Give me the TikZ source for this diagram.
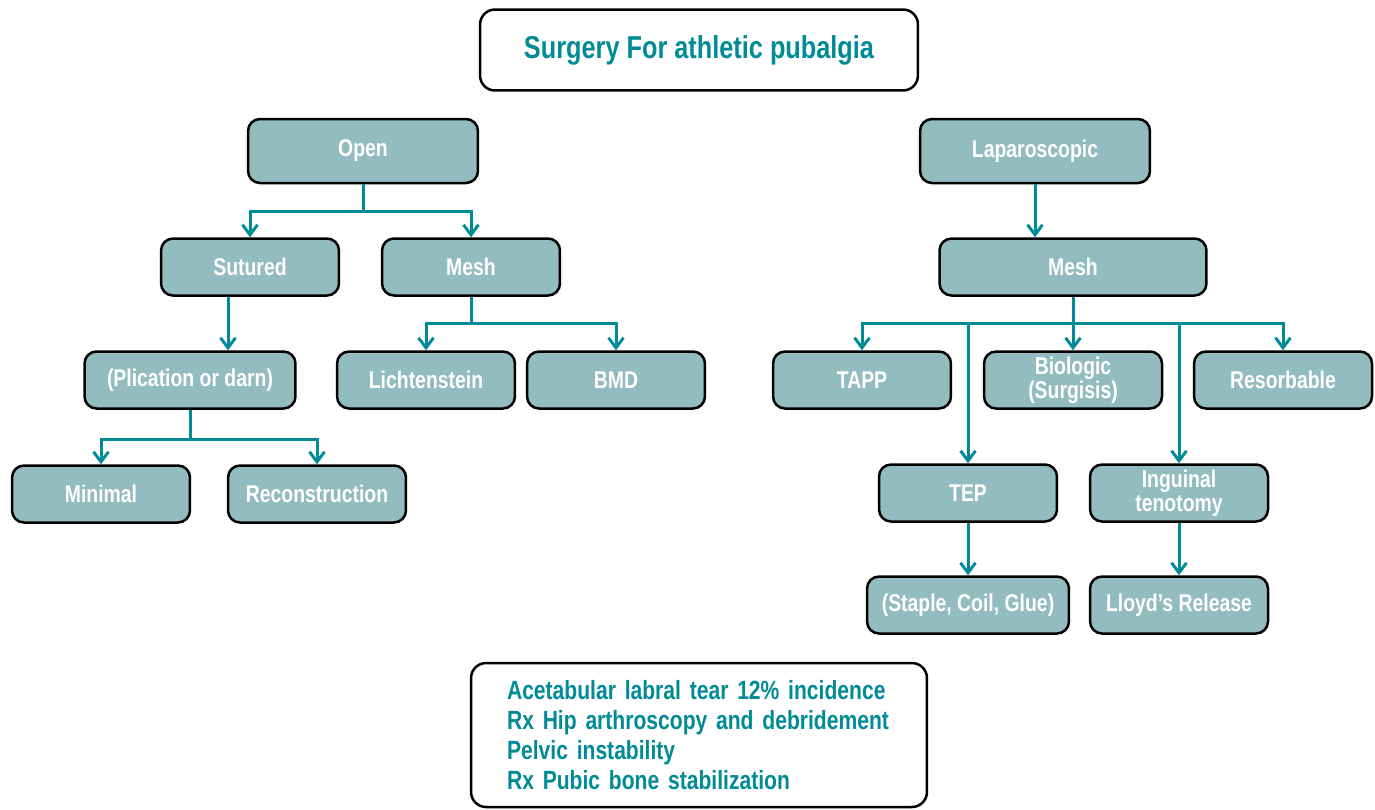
\documentclass[tikz,border=0pt]{standalone}
\usepackage{fontspec}
\setmainfont{Liberation Sans}[FakeStretch=0.8]
\usetikzlibrary{calc,arrows.meta}
\definecolor{boxfill}{RGB}{147,188,193}
\definecolor{pubteal}{RGB}{0,139,150}
\tikzset{
	stage/.style={draw=black, line width=0.5mm, fill=boxfill, rounded corners=0.24cm, text=white,
		font=\bfseries\fontsize{13.8}{13.6}\selectfont, align=center, inner sep=1pt,
		minimum width=3.56cm, minimum height=1.14cm},
	framebox/.style={draw=black, line width=0.5mm, fill=white, rounded corners=0.3cm, text=pubteal},
	trunk/.style={line width=0.6mm, color=pubteal},
	link/.style={trunk, -{Straight Barb[length=0.2cm, width=0.3cm]}},
}

\begin{document}
\begin{tikzpicture}[x=0.02cm, y=-0.02cm]
		%%%%% START %%%%%
		\useasboundingbox (0, 0) rectangle (1375, 809);
		
		\node[framebox, minimum width=8.76cm, minimum height=1.62cm, font=\bfseries\fontsize{18}{20}\selectfont] (title) at (699, 50) {Surgery For athletic pubalgia};
		
		% open branch
		\node[stage, minimum width=4.6cm, minimum height=1.28cm] (open) at (363, 151) {Open};
		\node[stage] (sutured) at (250, 267) {Sutured};
		\node[stage] (meshopen) at (471, 267) {Mesh};
		\node[stage, minimum width=4.22cm] (plication) at (190, 380) {(Plication or darn)};
		\node[stage] (lichtenstein) at (426, 380) {Lichtenstein};
		\node[stage] (bmd) at (616, 380) {BMD};
		\node[stage] (minimal) at (101, 494) {Minimal};
		\node[stage] (reconstruction) at (317, 494) {Reconstruction};
		
		% laparoscopic branch
		\node[stage, minimum width=4.6cm, minimum height=1.28cm] (lap) at (1035, 151) {Laparoscopic};
		\node[stage, minimum width=5.34cm] (lapmesh) at (1073, 267) {Mesh};
		\node[stage] (tapp) at (862, 380) {TAPP};
		\node[stage] (biologic) at (1073, 380) {Biologic\\(Surgisis)};
		\node[stage] (resorbable) at (1283, 380) {Resorbable};
		\node[stage] (tep) at (968, 493) {TEP};
		\node[stage] (inguinal) at (1179, 493) {Inguinal\\tenotomy};
		\node[stage, minimum width=4.04cm] (staple) at (968, 605) {(Staple, Coil, Glue)};
		\node[stage] (lloyd) at (1179, 605) {Lloyd’s Release};
		
		\node[framebox, text width=7.68cm, inner xsep=0.72cm, minimum height=2.88cm, align=left,
			font=\bfseries\fontsize{15}{17}\selectfont] (notes) at (699, 735)
			{Acetabular labral tear 12\% incidence\\Rx Hip arthroscopy and debridement\\Pelvic instability\\Rx Pubic bone stabilization};
		
		% connectors
		\coordinate (openfork) at ($(open.south)+(0, 27)$);
		\draw[trunk] (open) -- (openfork);
		\draw[link] (openfork) -| (sutured.north);
		\draw[link] (openfork) -| (meshopen.north);
		
		\coordinate (sutdrop) at ($(sutured.south)+(-22, 0)$);
		\draw[link] (sutdrop) -- (sutdrop |- plication.north);
		
		\coordinate (plicfork) at ($(plication.south)+(0, 30)$);
		\draw[trunk] (plication) -- (plicfork);
		\draw[link] (plicfork) -| (minimal.north);
		\draw[link] (plicfork) -| (reconstruction.north);
		
		\coordinate (meshfork) at ($(meshopen.south)+(0, 27)$);
		\draw[trunk] (meshopen) -- (meshfork);
		\draw[link] (meshfork) -| (lichtenstein.north);
		\draw[link] (meshfork) -| (bmd.north);
		
		\draw[link] (lap.south) -- (lap.south |- lapmesh.north);
		
		\coordinate (lapfork) at ($(lapmesh.south)+(0, 27)$);
		\draw[trunk] (lapmesh) -- (lapfork);
		\draw[link] (lapfork) -| (tapp.north);
		\draw[link] (lapfork) -- (biologic.north);
		\draw[link] (lapfork) -| (resorbable.north);
		\draw[link] (lapfork) -| (tep.north);
		\draw[link] (lapfork) -| (inguinal.north);
		
		\draw[link] (tep) -- (staple);
		\draw[link] (inguinal) -- (lloyd);
		
		%%%%% END %%%%%
	\end{tikzpicture}
\end{document}
